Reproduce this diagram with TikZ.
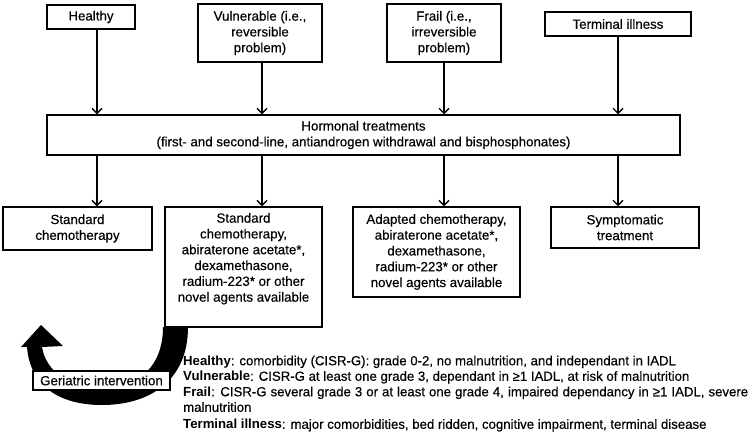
\documentclass[tikz,border=0pt]{standalone}
\usepackage{fontspec}
\setmainfont{Liberation Sans}[UprightFeatures={FakeBold=0.35}]
\usetikzlibrary{arrows.meta}
\begin{document}
\begin{tikzpicture}[x=1pt,y=-1pt,
  box/.style={draw, line width=1.5pt, fill=white, align=center, inner sep=0pt,
    font=\fontsize{13.3}{15.8}\selectfont},
  arr/.style={line width=1.4pt, -{Straight Barb[length=5pt,width=10pt,line width=1.4pt]}},
  legend/.style={align=left, inner sep=0pt, anchor=north west, font=\fontsize{13.2}{15.5}\selectfont}]
\useasboundingbox (0,0) rectangle (750,437);
% top row
\node[box, minimum width=88pt, minimum height=24pt] (healthy) at (91,17) {Healthy};
\node[box, minimum width=124pt, minimum height=58pt] (vuln) at (260,33) {Vulnerable (i.e.,\\reversible\\problem)};
\node[box, minimum width=114pt, minimum height=58pt] (frail) at (444,33) {Frail (i.e.,\\irreversible\\problem)};
\node[box, minimum width=146pt, minimum height=24pt] (term) at (618,24) {Terminal illness};
% middle
\node[box, minimum width=633pt, minimum height=40pt] (horm) at (363.5,135) {Hormonal treatments\\(first- and second-line, antiandrogen withdrawal and bisphosphonates)};
% bottom row
\node[box, minimum width=149pt, minimum height=43pt] (std) at (77.5,228.5) {Standard\\chemotherapy};
\node[box, minimum width=157pt, minimum height=120pt] (box2) at (243.5,267)
  {\parbox[c][120pt][t]{157pt}{\vspace*{6pt}\centering Standard\\chemotherapy,\\abiraterone acetate*,\\dexamethasone,\\radium-223* or other\\novel agents available}};
\node[box, minimum width=167pt, minimum height=90pt] (box3) at (436.5,252) {Adapted chemotherapy,\\abiraterone acetate*,\\dexamethasone,\\radium-223* or other\\novel agents available};
\node[box, minimum width=148pt, minimum height=41pt] (symp) at (625,227.5) {Symptomatic\\treatment};
% arrow columns
\coordinate (c1) at (97,0);
\coordinate (c2) at (262,0);
\coordinate (c3) at (444,0);
\coordinate (c4) at (618,0);
\draw[arr] (healthy.south -| c1) -- (horm.north -| c1);
\draw[arr] (vuln.south -| c2) -- (horm.north -| c2);
\draw[arr] (frail.south -| c3) -- (horm.north -| c3);
\draw[arr] (term.south -| c4) -- (horm.north -| c4);
\draw[arr] (horm.south -| c1) -- (std.north -| c1);
\draw[arr] (horm.south -| c2) -- (box2.north -| c2);
\draw[arr] (horm.south -| c3) -- (box3.north -| c3);
\draw[arr] (horm.south -| c4) -- (symp.north -| c4);
% big curved U-turn arrow
\fill[black] (163,327) -- (188,327)
  .. controls (188,382) and (148,405) .. (102,405)
  .. controls (58,405) and (30,385) .. (27,347)
  -- (21,347) -- (41,325) -- (63,346) -- (42,347)
  .. controls (46,372) and (70,388) .. (102,388)
  .. controls (140,388) and (163,365) .. (163,327) -- cycle;
\node[box, minimum width=137pt, minimum height=19pt, line width=1.3pt] (ger) at (101.5,380.5) {Geriatric intervention};
% legend
\node[legend] (leg) at (183,355.5) {\textbf{Healthy}: comorbidity (CISR-G): grade 0-2, no malnutrition, and independant in IADL\\
\textbf{Vulnerable}: CISR-G at least one grade 3, dependant in ≥1 IADL, at risk of malnutrition\\
\makebox[565pt][s]{\textbf{Frail}: CISR-G several grade 3 or at least one grade 4, impaired dependancy in ≥1 IADL, severe}\\
malnutrition\\[1.5pt]
\textbf{Terminal illness}: major comorbidities, bed ridden, cognitive impairment, terminal disease};
\end{tikzpicture}
\end{document}
